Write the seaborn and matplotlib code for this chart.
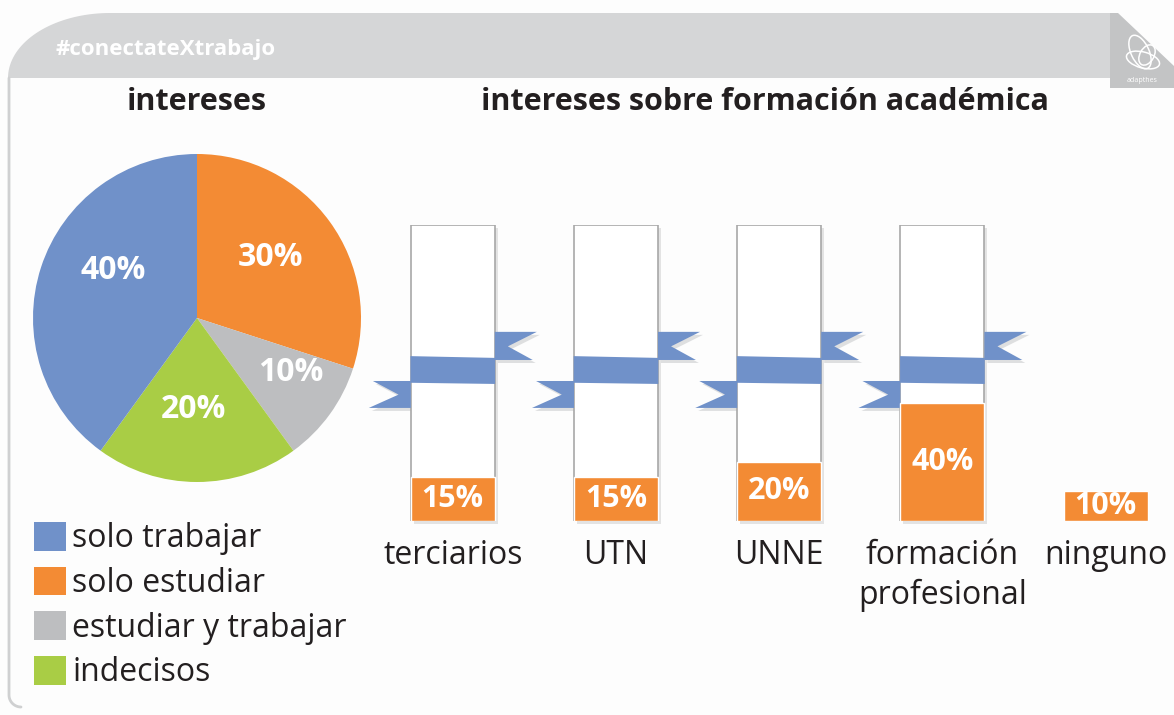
import numpy as np
import pandas as pd
import matplotlib
matplotlib.use("Agg")
import matplotlib.pyplot as plt
import matplotlib.patches as mpatches
import seaborn as sns

# datos del gráfico de torta
intereses = ["solo trabajar", "solo estudiar", "estudiar y trabajar", "indecisos"]
intereses_pct = [40, 30, 10, 20]
orden_torta = [1, 2, 3, 0]  # la torta arranca arriba con "solo estudiar" y gira horario

# datos de las barras
carreras = ["terciarios", "UTN", "UNNE", "formación\nprofesional", "ninguno"]
carreras_pct = [15, 15, 20, 40, 10]
con_marco = [True, True, True, True, False]

AZUL = "#7091c9"
NARANJA = "#f38b34"
GRIS = "#bdbec0"
VERDE = "#a9cd45"
TEXTO = "#231f20"
colores = [AZUL, NARANJA, GRIS, VERDE]

W, H = 1174, 715

sns.set_theme(style="white")
plt.rcParams["font.family"] = ["Open Sans", "DejaVu Sans"]

fig = plt.figure(figsize=(W / 100, H / 100), dpi=100)
fig.patch.set_facecolor("#fdfdfd")

# ---- decorado (cabecera gris, borde, logo) en coordenadas de pixel
bg = fig.add_axes([0, 0, 1, 1], zorder=-5)
bg.set_xlim(0, W)
bg.set_ylim(H, 0)
bg.axis("off")
t = np.linspace(0, np.pi / 2, 40)
arco = np.column_stack([110 - 102 * np.cos(t), 78 - 65 * np.sin(t)])
cabecera = np.vstack([arco, [[1110, 13], [1110, 78], [8, 78]]])
bg.add_patch(mpatches.Polygon(cabecera, closed=True, fc="#d5d6d7", ec="none"))
bg.add_patch(mpatches.Polygon([[1110, 13], [1118, 13], [1174, 66], [1174, 88], [1110, 88]],
                              closed=True, fc="#c3c4c5", ec="none"))
tb = np.linspace(np.pi, np.pi * 1.5, 20)
borde_x = np.concatenate([[9, 9], 21 + 12 * np.cos(tb)])
borde_y = np.concatenate([[78, 695], 695 - 12 * np.sin(tb)])
bg.plot(borde_x, borde_y, color="#cfd0d1", lw=2)
bg.add_patch(mpatches.Ellipse((1140, 52), 18, 36, angle=-25, fc="none", ec="white", lw=1.1))
bg.add_patch(mpatches.Ellipse((1143, 60), 34, 16, angle=15, fc="none", ec="white", lw=1.1))
bg.add_patch(mpatches.Ellipse((1147, 55), 14, 22, angle=30, fc="none", ec="white", lw=1.1))
bg.text(1142, 80, "adapthes", color="white", fontsize=5, ha="center", va="center")
bg.text(55, 50, "#conectateXtrabajo", color="white", fontsize=16, fontweight="bold",
        ha="left", va="center")

fig.text(197 / W, 1 - 102 / H, "intereses", ha="center", va="center",
         fontsize=22, fontweight="bold", color=TEXTO)
fig.text(765 / W, 1 - 102 / H, "intereses sobre formación académica", ha="center",
         va="center", fontsize=22, fontweight="bold", color=TEXTO)

# ---- torta
cx, cy, r = 197, 318, 164
ax_p = fig.add_axes([(cx - r) / W, (H - cy - r) / H, 2 * r / W, 2 * r / H])
cuñas, _, textos = ax_p.pie([intereses_pct[i] for i in orden_torta],
                            colors=[colores[i] for i in orden_torta],
                            startangle=90, counterclock=False,
                            autopct=lambda p: f"{p:.0f}%", pctdistance=0.6,
                            textprops=dict(color="white", fontweight="bold", fontsize=23),
                            wedgeprops=dict(linewidth=0))
# pequeños ajustes de posición de las etiquetas como en el original
ajustes = [(0.45, 0.37), (0.57, -0.33), (-0.02, -0.56), (-0.51, 0.29)]
for txt, pos in zip(textos, ajustes):
    txt.set_position(pos)
ax_p.set_xlim(-1, 1)
ax_p.set_ylim(-1, 1)
manijas = [cuñas[orden_torta.index(i)] for i in range(len(intereses))]
ax_p.legend(manijas, intereses, loc="upper left", bbox_to_anchor=(34 / W, 1 - 522 / H),
            bbox_transform=fig.transFigure, frameon=False, fontsize=23,
            handlelength=1.0, handleheight=1.0, handletextpad=0.2,
            labelspacing=0.36, borderpad=0, borderaxespad=0, labelcolor=TEXTO)

# ---- barras
paso = 163.2
ax_b = fig.add_axes([(452.8 - paso / 2) / W, 194 / H, 5 * paso / W, 296 / H])
df = pd.DataFrame({"carrera": carreras, "pct": carreras_pct,
                   "marco": [100 if m else np.nan for m in con_marco]})
ancho = 84 / paso
sns.barplot(data=df, x="carrera", y="marco", order=carreras, color="white",
            saturation=1, edgecolor="#a8a8a8", linewidth=1.2, width=ancho,
            errorbar=None, ax=ax_b, zorder=2)
marcos = [p for p in ax_b.patches if np.isfinite(p.get_height()) and p.get_height() > 0]
dx, dy = 3 / paso, 3 / 2.96
for p in marcos:
    ax_b.add_patch(mpatches.Rectangle((p.get_x() + dx, p.get_y() - dy), p.get_width(),
                                      p.get_height(), fc="#e3e3e3", ec="none", zorder=1,
                                      clip_on=False))
sns.barplot(data=df, x="carrera", y="pct", order=carreras, color=NARANJA,
            saturation=1, width=ancho, errorbar=None, ax=ax_b, zorder=3)
ax_b.bar_label(ax_b.containers[-1], labels=[f"{v}%" for v in carreras_pct],
               label_type="center", color="white", fontweight="bold", fontsize=22)

# cinta azul que cruza cada marco
cola = 42 / paso
for p in marcos:
    L, R = p.get_x(), p.get_x() + p.get_width()
    sombra = dict(fc="#dedfe0", ec="none", zorder=1.5, clip_on=False)
    izq = [[L, 47.3], [L - cola + 0.025, 47.3], [L - 0.075, 42.7], [L - cola, 38.2], [L, 38.2]]
    der = [[R, 63.9], [R + cola, 63.9], [R + 0.08, 59.0], [R + cola - 0.025, 54.4], [R, 54.4]]
    for pts in (izq, der):
        ax_b.add_patch(mpatches.Polygon(np.array(pts) + [dx, -dy], closed=True, **sombra))
        ax_b.add_patch(mpatches.Polygon(pts, closed=True, fc=AZUL, ec="none",
                                        zorder=2.5, clip_on=False))
    ax_b.add_patch(mpatches.Polygon([[L - 0.002, 55.7], [R + 0.002, 55.1],
                                     [R + 0.002, 46.3], [L - 0.002, 46.7]],
                                    closed=True, fc=AZUL, ec="none", zorder=4, clip_on=False))

ax_b.set_xlim(-0.5, 4.5)
ax_b.set_ylim(0, 100)
ax_b.set_xlabel("")
ax_b.set_ylabel("")
ax_b.set_yticks([])
ax_b.patch.set_alpha(0)
ax_b.tick_params(axis="x", length=0, pad=13, labelsize=23, labelcolor=TEXTO)
for lab in ax_b.get_xticklabels():
    lab.set_linespacing(1.28)
sns.despine(ax=ax_b, left=True, bottom=True)

fig.savefig("out.png", dpi=100, facecolor=fig.get_facecolor())
